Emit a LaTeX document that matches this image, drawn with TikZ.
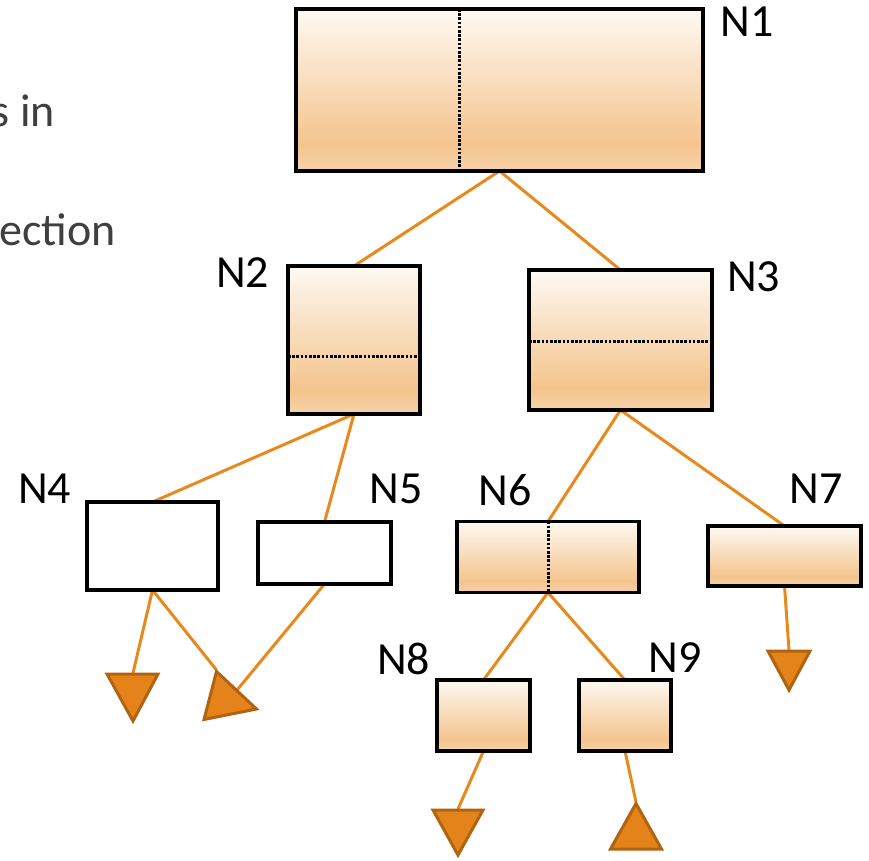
\documentclass[tikz,border=0pt]{standalone}
\usepackage{fontspec}
\setmainfont{Carlito}
\usetikzlibrary{backgrounds}
\definecolor{linkc}{HTML}{E8891E}
\definecolor{trifill}{HTML}{E4831A}
\definecolor{triedge}{HTML}{B1640F}
\definecolor{gtxt}{HTML}{3F3F3F}
\definecolor{shtop}{HTML}{FEF9F3}
\definecolor{shmid}{HTML}{F4C48D}
\definecolor{shbot}{HTML}{F7D3AA}
\pgfdeclareverticalshading{boxshade}{100bp}{color(0bp)=(shbot); color(25bp)=(shbot); color(33bp)=(shmid); color(75bp)=(shtop); color(100bp)=(shtop)}
\begin{document}
\begin{tikzpicture}[x=1pt,y=-1pt,
  box/.style={draw=black, line width=3.8pt, shading=boxshade, inner sep=0pt, outer sep=0pt},
  plainbox/.style={draw=black, line width=3.8pt, fill=white, inner sep=0pt, outer sep=0pt},
  link/.style={draw=linkc, line width=3pt},
  tri/.style={fill=trifill, draw=triedge, line width=3pt, line join=miter},
  lbl/.style={font=\fontsize{46}{54}\selectfont, inner sep=0pt, anchor=base west},
  gtext/.style={font=\fontsize{46}{54}\selectfont, text=gtxt, inner sep=0pt, anchor=base east},
  dots/.style={draw=black, line width=3pt, dash pattern=on 2.6pt off 1.6pt}]
\useasboundingbox (0,0) rectangle (869,860);

% side text
\node[gtext] (g1) at (55,126) {s in};
\node[gtext] (g2) at (116,245) {ection};

% boxes
\node[box, minimum width=407pt, minimum height=162pt] (n1) at (499.5,90) {};
\node[box, minimum width=132pt, minimum height=148pt] (n2) at (354,340) {};
\node[box, minimum width=183pt, minimum height=140pt] (n3) at (620.5,340) {};
\node[plainbox, minimum width=131pt, minimum height=88pt] (n4) at (152.5,546) {};
\node[plainbox, minimum width=133pt, minimum height=62pt] (n5) at (324.5,553) {};
\node[box, minimum width=182pt, minimum height=71pt] (n6) at (548,557) {};
\node[box, minimum width=153pt, minimum height=60pt] (n7) at (784.5,556) {};
\node[box, minimum width=93pt, minimum height=71pt] (n8) at (483.5,715.5) {};
\node[box, minimum width=92pt, minimum height=71pt] (n9) at (625,715.5) {};

% dotted splits
\draw[dots] (459,0 |- n1.north) -- (459,0 |- n1.south);
\draw[dots] (n2.west |- 0,356) -- (n2.east |- 0,356);
\draw[dots] (n3.west |- 0,341) -- (n3.east |- 0,341);
\draw[dots] (n6.north) -- (n6.south);

% labels
\node[lbl] (l1) at (720.5,36) {N1};
\node[lbl] (l2) at (216,287) {N2};
\node[lbl] (l3) at (727,291) {N3};
\node[lbl] (l4) at (18,503) {N4};
\node[lbl] (l5) at (369.5,503) {N5};
\node[lbl] (l6) at (478.5,505) {N6};
\node[lbl] (l7) at (789.5,503) {N7};
\node[lbl] (l8) at (377,674) {N8};
\node[lbl] (l9) at (648.5,672) {N9};

% leaves
\coordinate (t1) at (133,673);
\coordinate (t2a) at (216.5,670);
\coordinate (t2b) at (237.5,689.5);
\coordinate (t3) at (789,650);
\coordinate (t4) at (458,809);
\coordinate (t5) at (636,802);
\filldraw[tri] (107,674) -- (158,674) -- (133,721) -- cycle;
\filldraw[tri] (216.5,671.5) -- (256.5,709) -- (204,719.5) -- cycle;
\filldraw[tri] (768,651) -- (810,651) -- (789,690) -- cycle;
\filldraw[tri] (433,810) -- (483,810) -- (458,855) -- cycle;
\filldraw[tri] (636,803.5) -- (661.5,849) -- (610.5,849) -- cycle;

% connectors
\begin{scope}[on background layer]
\draw[link] (n1.south) -- (n2.north);
\draw[link] (n1.south) -- (n3.north);
\draw[link] (n2.south) -- (n4.north);
\draw[link] (n2.south) -- (n5.north);
\draw[link] (n3.south) -- (n6.north);
\draw[link] (n3.south) -- (n7.north);
\draw[link] (n6.south) -- (n8.north);
\draw[link] (n6.south) -- (n9.north);
\draw[link] (n4.south) -- (t1);
\draw[link] (n4.south) -- (t2a);
\draw[link] (n5.south) -- (t2b);
\draw[link] (n7.south) -- (t3);
\draw[link] (n8.south) -- (t4);
\draw[link] (n9.south) -- (t5);
\end{scope}
\end{tikzpicture}
\end{document}
